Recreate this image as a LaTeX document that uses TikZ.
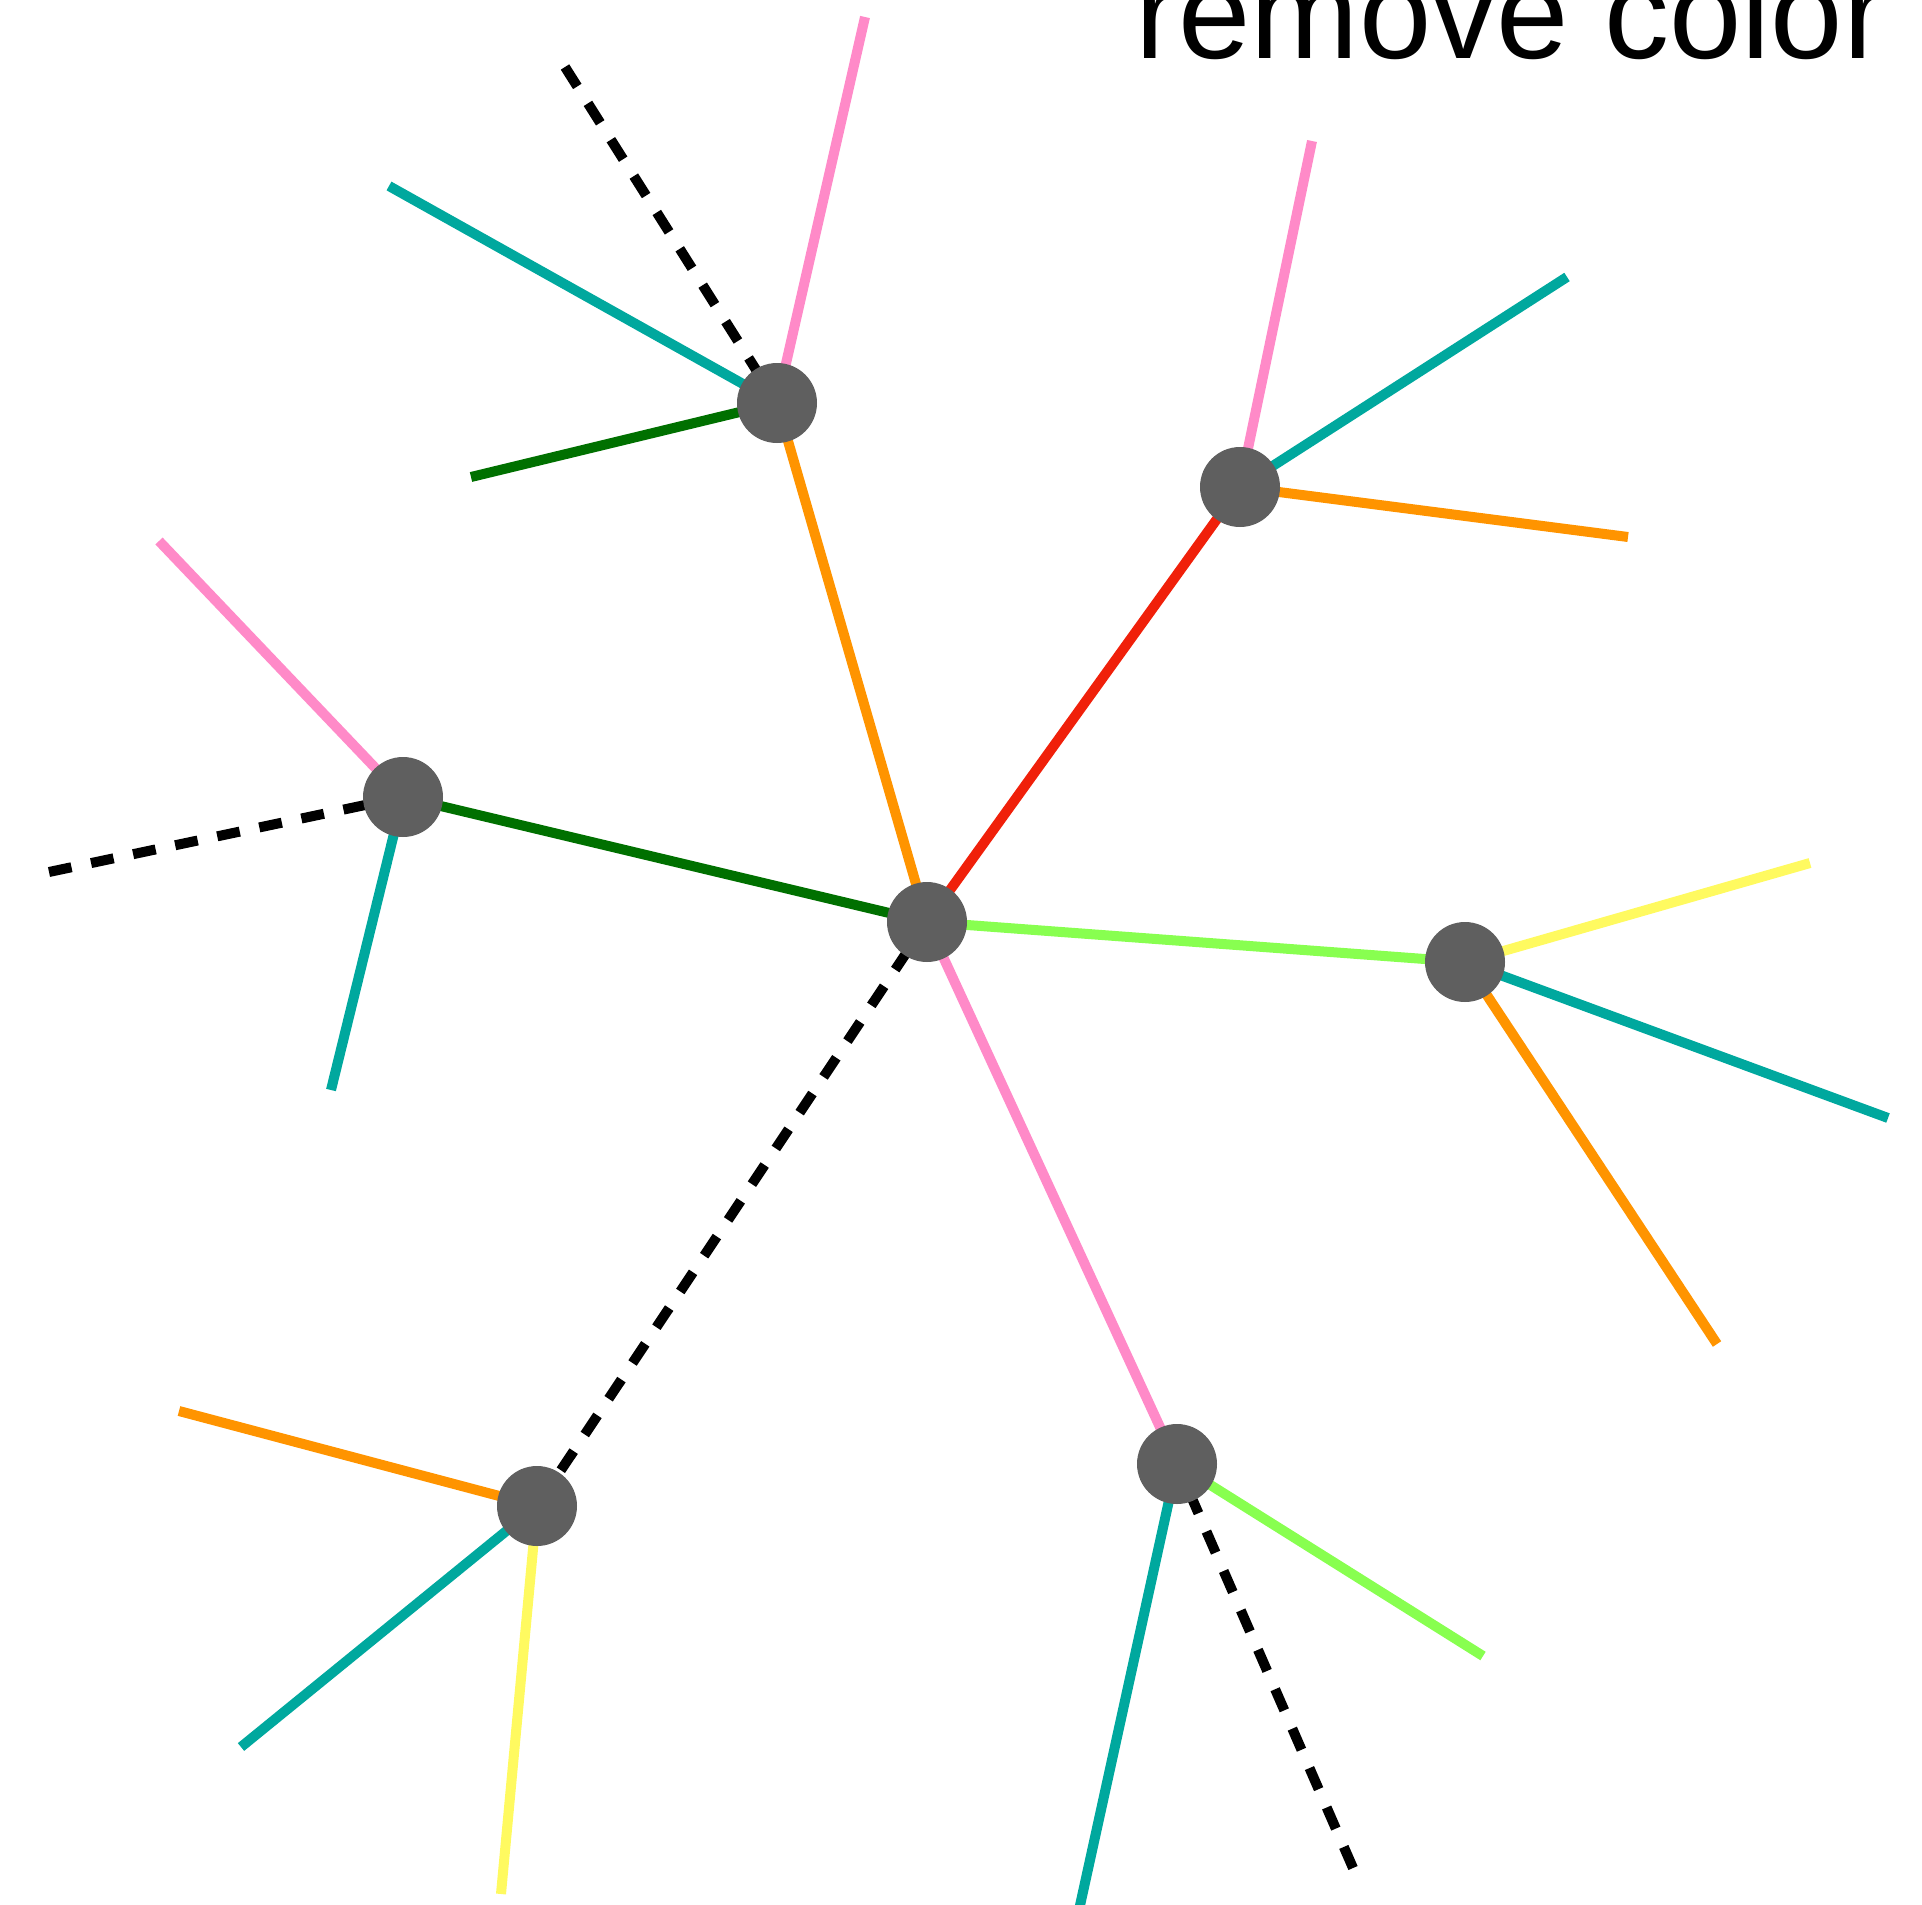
\documentclass[tikz,border=0pt]{standalone}
\usepackage{fontspec}
\setmainfont{Liberation Sans}
\definecolor{nodegray}{RGB}{95,95,95}
\definecolor{cpink}{RGB}{255,138,200}
\definecolor{cteal}{RGB}{0,168,158}
\definecolor{cdgreen}{RGB}{0,112,0}
\definecolor{corange}{RGB}{255,148,0}
\definecolor{cred}{RGB}{240,32,10}
\definecolor{clgreen}{RGB}{136,255,80}
\definecolor{cyellow}{RGB}{255,250,96}
\begin{document}
\begin{tikzpicture}[x=1pt,y=-1pt,
  vert/.style={circle,fill=nodegray,minimum size=80pt,inner sep=0pt},
  edge/.style={line width=10pt},
  dashedge/.style={line width=10pt,black,dash pattern=on 23pt off 20pt}]
\useasboundingbox (0,0) rectangle (1922,1905);
\clip (0,0) rectangle (1922,1905);
% centers
\coordinate (C) at (927,922);
\coordinate (A) at (777,403);
\coordinate (B) at (1240,487);
\coordinate (D) at (403,797);
\coordinate (E) at (1465,962);
\coordinate (F) at (1177,1464);
\coordinate (G) at (537,1506);
% free ends
\coordinate (a1) at (865,17);
\coordinate (a2) at (565,67);
\coordinate (a3) at (389,186);
\coordinate (a4) at (471,477);
\coordinate (b1) at (1312,141);
\coordinate (b2) at (1567,277);
\coordinate (b3) at (1628,537);
\coordinate (d1) at (159,541);
\coordinate (d2) at (49,872);
\coordinate (d3) at (331,1090);
\coordinate (e1) at (1810,863);
\coordinate (e2) at (1888,1118);
\coordinate (e3) at (1717,1344);
\coordinate (f1) at (1483,1656);
\coordinate (f2) at (1353,1868);
\coordinate (f3) at (1079,1910);
\coordinate (g1) at (179,1411);
\coordinate (g2) at (241,1747);
\coordinate (g3) at (501,1894);
% edges
\draw[edge,cpink] (A) -- (a1);
\draw[dashedge] (a2) -- (A);
\draw[edge,cteal] (A) -- (a3);
\draw[edge,cdgreen] (A) -- (a4);
\draw[edge,cpink] (B) -- (b1);
\draw[edge,cteal] (B) -- (b2);
\draw[edge,corange] (B) -- (b3);
\draw[edge,cpink] (D) -- (d1);
\draw[dashedge] (d2) -- (D);
\draw[edge,cteal] (D) -- (d3);
\draw[edge,cyellow] (E) -- (e1);
\draw[edge,cteal] (E) -- (e2);
\draw[edge,corange] (E) -- (e3);
\draw[edge,clgreen] (F) -- (f1);
\draw[dashedge] (f2) -- (F);
\draw[edge,cteal] (F) -- (f3);
\draw[edge,corange] (G) -- (g1);
\draw[edge,cteal] (G) -- (g2);
\draw[edge,cyellow] (G) -- (g3);
\draw[edge,corange] (C) -- (A);
\draw[edge,cred] (C) -- (B);
\draw[edge,cdgreen] (C) -- (D);
\draw[edge,clgreen] (C) -- (E);
\draw[edge,cpink] (C) -- (F);
\draw[dashedge] (G) -- (C);
% nodes
\node[vert] (nC) at (C) {};
\node[vert] (nA) at (A) {};
\node[vert] (nB) at (B) {};
\node[vert] (nD) at (D) {};
\node[vert] (nE) at (E) {};
\node[vert] (nF) at (F) {};
\node[vert] (nG) at (G) {};
\node[anchor=base west,inner sep=0pt,font=\fontsize{130}{150}\selectfont] (title) at (1135,59) {remove color};
\end{tikzpicture}
\end{document}
